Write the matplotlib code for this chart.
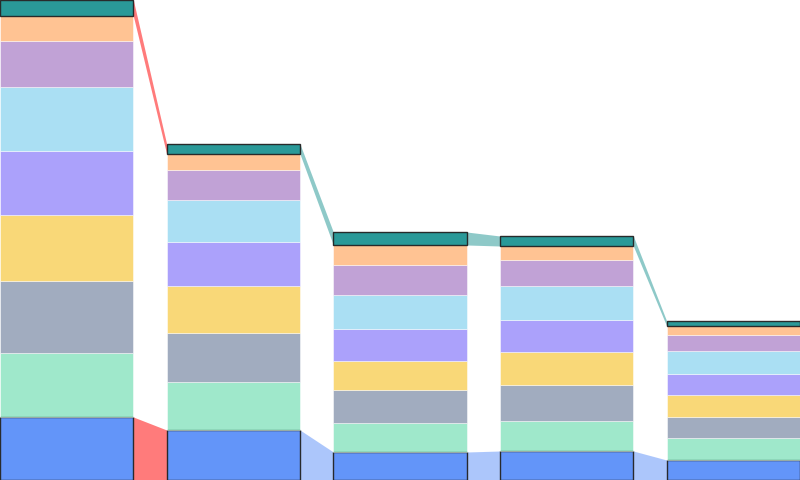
import numpy as np
import matplotlib
matplotlib.use('Agg')
import matplotlib.pyplot as plt

stages = ['A', 'B', 'C', 'D', 'E']
series = ['s1', 's2', 's3', 's4', 's5', 's6', 's7', 's8', 's9']
colors = ['#5B8FF9', '#5AD8A6', '#5D7092', '#F6BD16', '#6F5EF9',
          '#6DC8EC', '#945FB9', '#FF9845', '#1E9493']

# values per series, bottom to top, one entry per stage
s1 = [63, 50, 28, 29, 20]
s2 = [64, 48, 29, 30, 22]
s3 = [72, 49, 33, 36, 21]
s4 = [66, 47, 29, 33, 22]
s5 = [64, 44, 32, 32, 21]
s6 = [64, 42, 34, 34, 23]
s7 = [46, 30, 30, 26, 16]
s8 = [25, 16, 20, 14, 9]
s9 = [16, 10, 13, 10, 5]
data = np.array([s1, s2, s3, s4, s5, s6, s7, s8, s9], dtype=float)

highlight = 0  # transition drawn in red

fig = plt.figure(figsize=(8, 4.8), dpi=100)
ax = fig.add_axes([0, 0, 1, 1])
x = np.arange(len(stages))
w = 0.8

bottoms = np.zeros(len(stages))
tops = []
for i, vals in enumerate(data):
    outer = i == 0 or i == len(data) - 1
    ax.bar(x, vals, w, bottom=bottoms, color=colors[i],
           alpha=0.95 if outer else 0.58,
           edgecolor='#222222' if outer else (1, 1, 1, 0.25),
           linewidth=1.0 if outer else 0.6, zorder=2)
    tops.append((bottoms.copy(), bottoms + vals))
    bottoms = bottoms + vals

# connectors for the first and last series
for i in [0, len(data) - 1]:
    lo, hi = tops[i]
    for j in range(len(stages) - 1):
        xs = [x[j] + w / 2, x[j + 1] - w / 2]
        if j == highlight:
            c, a = '#FF7B7B', 1.0
        else:
            c, a = colors[i], 0.5
        ax.fill_between(xs, [lo[j], lo[j + 1]], [hi[j], hi[j + 1]],
                        color=c, alpha=a, linewidth=0, zorder=1)

ax.set_xlim(-w / 2, len(stages) - 1 + w / 2)
ax.set_ylim(0, data.sum(axis=0).max())
ax.axis('off')
fig.savefig('out.png', dpi=100)
